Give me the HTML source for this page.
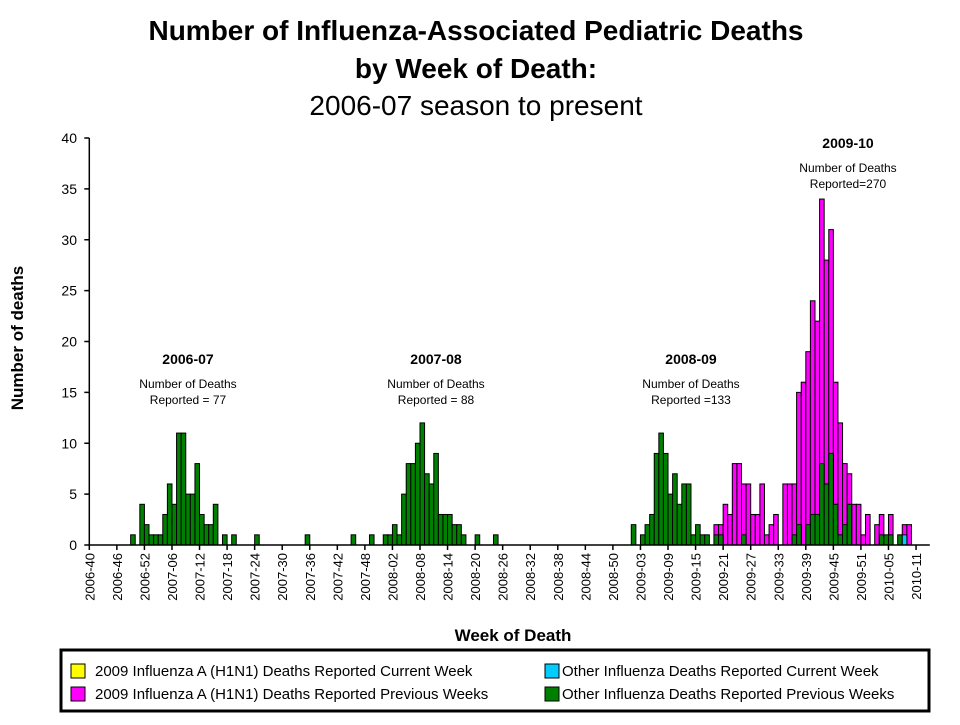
<!DOCTYPE html>
<html><head><meta charset="utf-8"><style>
body{margin:0;background:#fff;}
svg text{font-family:"Liberation Sans",Arial,sans-serif;}
</style></head><body>
<svg id="chart" width="960" height="720" viewBox="0 0 960 720" xmlns="http://www.w3.org/2000/svg">
<g text-anchor="middle">
<text x="476" y="40" font-size="28" font-weight="bold">Number of Influenza-Associated Pediatric Deaths</text>
<text x="476" y="78" font-size="28" font-weight="bold">by Week of Death:</text>
<text x="476" y="115" font-size="28">2006-07 season to present</text>
</g>
<g id="bars"></g>
<g id="axes"></g>
<g text-anchor="middle">
<text x="188" y="364" font-size="14" font-weight="bold">2006-07</text>
<text x="188" y="388" font-size="12">Number of Deaths</text>
<text x="188" y="404" font-size="12">Reported = 77</text>
<text x="436" y="364" font-size="14" font-weight="bold">2007-08</text>
<text x="436" y="388" font-size="12">Number of Deaths</text>
<text x="436" y="404" font-size="12">Reported = 88</text>
<text x="691" y="364" font-size="14" font-weight="bold">2008-09</text>
<text x="691" y="388" font-size="12">Number of Deaths</text>
<text x="691" y="404" font-size="12">Reported =133</text>
<text x="848" y="148" font-size="14" font-weight="bold">2009-10</text>
<text x="848" y="172" font-size="12">Number of Deaths</text>
<text x="848" y="188" font-size="12">Reported=270</text>
</g>
<text x="23" y="338" font-size="17" font-weight="bold" text-anchor="middle" transform="rotate(-90 23 338)">Number of deaths</text>
<text x="513" y="641" font-size="17" font-weight="bold" text-anchor="middle">Week of Death</text>
<g>
<rect x="61" y="650" width="868" height="61" fill="#fff" stroke="#000" stroke-width="3"/>
<g><rect x="71" y="664" width="14" height="14" fill="#ffff00" stroke="#000"/><text x="95" y="676" font-size="15">2009 Influenza  A (H1N1) Deaths Reported Current Week</text></g>
<g><rect x="71" y="687" width="14" height="14" fill="#ff00ff" stroke="#000"/><text x="95" y="699" font-size="15">2009 Influenza  A (H1N1) Deaths Reported Previous Weeks</text></g>
<g><rect x="545" y="664" width="14" height="14" fill="#00ccff" stroke="#000"/><text x="562" y="676" font-size="15">Other Influenza  Deaths Reported Current Week</text></g>
<g><rect x="545" y="687" width="14" height="14" fill="#008000" stroke="#000"/><text x="562" y="699" font-size="15">Other Influenza  Deaths Reported Previous Weeks</text></g>
</g>
</svg>
<script>
// week index 0 = 2006-40; 183 weekly categories
const tickLabels = ["2006-40","2006-46","2006-52","2007-06","2007-12","2007-18","2007-24","2007-30","2007-36","2007-42","2007-48","2008-02","2008-08","2008-14","2008-20","2008-26","2008-32","2008-38","2008-44","2008-50","2009-03","2009-09","2009-15","2009-21","2009-27","2009-33","2009-39","2009-45","2009-51","2010-05","2010-11"];
const yTicks = [0,5,10,15,20,25,30,35,40];
// [weekIndex, value]
const otherPrevious = [[9,1],[11,4],[12,2],[13,1],[14,1],[15,1],[16,3],[17,6],[18,4],[19,11],[20,11],[21,5],[22,5],[23,8],[24,3],[25,2],[26,2],[27,4],[29,1],[31,1],[36,1],[47,1],
[57,1],[61,1],[64,1],[65,1],[66,2],[67,1],[68,5],[69,8],[70,8],[71,10],[72,12],[73,7],[74,6],[75,9],[76,3],[77,3],[78,3],[79,2],[80,2],[81,1],[84,1],[88,1],
[118,2],[120,1],[121,2],[122,3],[123,9],[124,11],[125,9],[126,5],[127,7],[128,4],[129,6],[130,6],[131,1],[132,2],[133,1],[134,1],[136,1],[137,1],[142,1],
[153,1],[154,2],[156,2],[157,3],[158,3],[159,8],[160,6],[161,9],[162,4],[163,1],[164,2],[165,4],[172,1],[173,1],[174,1],[176,1]];
const h1n1Previous = [[136,2],[137,2],[138,4],[139,3],[140,8],[141,8],[142,6],[143,6],[144,3],[145,3],[146,6],[147,1],[148,2],[149,3],
[151,6],[152,6],[153,6],[154,15],[155,16],[156,19],[157,24],[158,22],[159,34],[160,28],[161,31],[162,16],[163,12],[164,8],[165,7],[166,4],[167,4],[168,1],[169,3],[171,2],[172,3],[174,3],[177,2],[178,2]];
const otherCurrent = [[177,1]];
const h1n1Current = [];

const X0=89.3, W=4.593, NCAT=183, Y0=545, YMAX=40, PH=407;
const xs=i=>X0+i*W;
const ys=v=>Y0-v/YMAX*PH;
const NS="http://www.w3.org/2000/svg";
const bars=document.getElementById('bars');
function drawSeries(arr,color,name){
  arr.forEach(([i,v])=>{
    const r=document.createElementNS(NS,'rect');
    r.setAttribute('x',xs(i));r.setAttribute('y',ys(v));
    r.setAttribute('width',W);r.setAttribute('height',Y0-ys(v));
    r.setAttribute('fill',color);r.setAttribute('stroke','#000');r.setAttribute('stroke-width','1');
    
    
    bars.appendChild(r);
  });
}
drawSeries(h1n1Previous,'#ff00ff','bar-h1n1-previous');
drawSeries(otherPrevious,'#008000','bar-other-previous');
drawSeries(otherCurrent,'#00ccff','bar-other-current');
drawSeries(h1n1Current,'#ffff00','bar-h1n1-current');

const ax=document.getElementById('axes');
function line(x1,y1,x2,y2,name){
  const l=document.createElementNS(NS,'line');
  l.setAttribute('x1',x1);l.setAttribute('y1',y1);l.setAttribute('x2',x2);l.setAttribute('y2',y2);
  l.setAttribute('stroke','#000');l.setAttribute('stroke-width','1.5');
  
  
  ax.appendChild(l);
}
line(X0,ys(YMAX),X0,Y0,'y-axis-line');
line(X0,Y0,xs(NCAT),Y0,'x-axis-line');
yTicks.forEach(v=>{
  line(X0-5,ys(v),X0,ys(v),'y-tick');
  const t=document.createElementNS(NS,'text');
  t.setAttribute('x',77);t.setAttribute('y',ys(v)+5);
  t.setAttribute('text-anchor','end');t.setAttribute('font-size','14');
  
  
  t.textContent=v;ax.appendChild(t);
});
tickLabels.forEach((lab,k)=>{
  const x=xs(k*6);
  line(x,Y0,x,Y0+5,'x-tick');
  const t=document.createElementNS(NS,'text');
  t.setAttribute('x',x+5);t.setAttribute('y',553);
  t.setAttribute('text-anchor','end');t.setAttribute('font-size','13');
  t.setAttribute('transform','rotate(-90 '+(x+5)+' 553)');
  
  
  t.textContent=lab;ax.appendChild(t);
});
</script>
</body></html>
